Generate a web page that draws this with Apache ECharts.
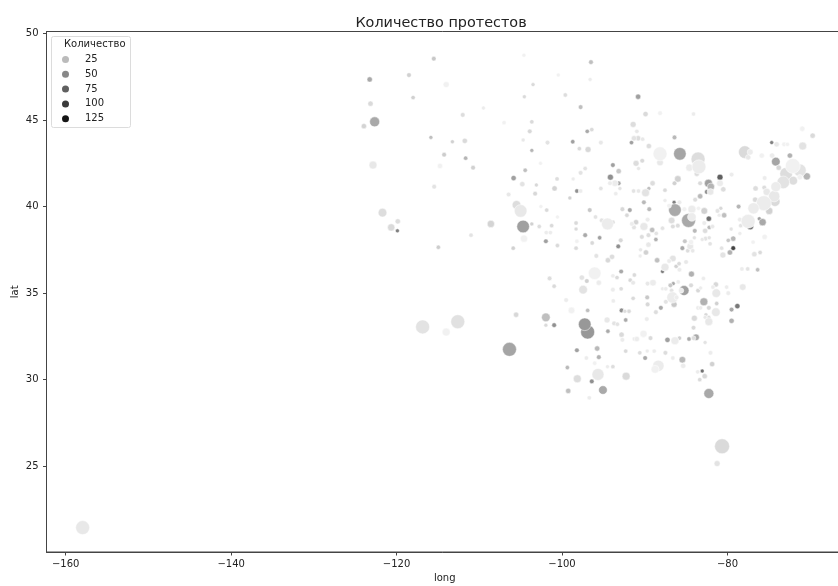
<!DOCTYPE html>
<html><head><meta charset="utf-8">
<style>html,body{margin:0;padding:0;background:#fff}#c{width:838px;height:586px}</style>
<script src="https://cdn.jsdelivr.net/npm/echarts@6/dist/echarts.min.js"></script>
</head><body><div id="c"></div>
<script>
const chartTitle = 'Количество протестов';
const legendTitle = 'Количество';
const legendCounts = ['25','50','75','100','125'];
const legendShades = ['#bbbbbb','#888888','#606060','#3a3a3a','#151515'];
const xTicks = [-160,-140,-120,-100,-80];
const yTicks = [25,30,35,40,45,50];
// each row: long, lat, size, count
const west = [[-115.5,48.55,22,19],[-118.5,47.6,22,15],[-123.25,47.35,28,34],[-114,47.05,36,1],[-104.6,48.75,16,1],[-103.5,47.05,16,11],[-104.55,46.35,16,11],[-118,46.3,19,15],[-123.15,45.95,28,11],[-109.5,45.7,16,3],[-112,45.3,22,10],[-122.65,44.9,100,34],[-123.95,44.65,28,14],[-107,44.85,19,1],[-103.65,44.9,19,11],[-103.9,44.35,22,12],[-115.85,44,16,23],[-113.25,43.75,16,15],[-111.75,43.8,28,11],[-104.7,43.85,16,5],[-103.65,43.25,16,28],[-114.25,43,22,17],[-111.65,42.8,19,28],[-122.85,42.4,64,5],[-114.75,42.35,28,1],[-110.75,42.25,22,15],[-104.45,42.1,19,23],[-105.85,41.65,28,38],[-104.8,41.3,28,7],[-103.1,41.25,16,12],[-115.45,41.15,22,7],[-106.45,40.7,22,5],[-103.25,40.75,22,12],[-105.5,40.1,75,10],[-121.7,39.65,75,10],[-105,39.75,160,5],[-119.85,39.15,28,10],[-120.65,38.8,53,11],[-119.9,38.6,16,55],[-108.6,39,53,14],[-104.7,38.85,160,38],[-103.65,39,16,15],[-102.75,38.85,19,10],[-111,38.35,19,7],[-104.6,38.15,53,1],[-114.95,37.65,19,17],[-105.9,37.6,19,15],[-105.55,33.75,28,12],[-112.6,33.35,196,8],[-116.85,33.05,196,7],[-114,32.75,64,1],[-106.35,31.75,196,36],[-157.95,21.45,196,5]];
const central = [[-96.5,48.35,22,23],[-100.45,47.6,16,1],[-96.6,47.35,16,3],[-99.6,46.45,19,10],[-90.8,46.35,28,38],[-97.75,45.75,22,23],[-89.9,45.35,28,11],[-88.15,45.4,22,1],[-84.1,45.35,19,3],[-96.95,44.35,19,34],[-96.4,44.45,19,11],[-91.4,44.75,36,10],[-90.95,44.35,19,5],[-91.3,43.95,28,7],[-90.8,43.95,28,10],[-90.25,43.9,19,5],[-101.75,43.7,22,7],[-98.7,43.75,19,38],[-95.3,43.7,22,5],[-91.6,43.7,19,38],[-97.9,43.35,19,11],[-96.85,43.3,36,12],[-102.6,42.5,16,1],[-91.05,42.5,36,10],[-90.3,42.65,22,11],[-93.85,42.4,22,38],[-93.15,42.05,28,19],[-90.75,42.2,16,5],[-97.2,42.2,19,7],[-97.75,41.95,22,7],[-100.6,41.6,19,10],[-98.65,41.6,16,3],[-94.15,41.7,36,46],[-93.15,41.35,22,34],[-93.6,41.35,44,3],[-94.2,41.35,22,3],[-100.9,41.05,28,14],[-95.3,41.05,19,7],[-93,41.05,16,7],[-98.2,40.9,19,46],[-97.75,40.9,19,3],[-91.35,40.9,19,7],[-90.75,40.9,19,5],[-89.9,40.8,64,7],[-89.5,41.05,16,23],[-93.5,40.75,19,3],[-99.05,40.5,16,15],[-90.1,40.25,22,26],[-102.55,40,16,1],[-101.85,39.8,19,11],[-96.65,39.8,22,19],[-92.7,39.85,22,12],[-91.8,39.8,22,34],[-89.45,39.85,22,26],[-92.15,39.5,19,12],[-100.55,39.4,16,1],[-95.95,39.4,19,7],[-89.65,39.25,22,3],[-91.05,39.1,28,14],[-91.55,39,22,3],[-91.3,38.8,22,7],[-94.5,39,144,3],[-95.2,39.2,22,7],[-93.85,39.1,19,11],[-98.3,39.05,19,11],[-101.25,38.9,19,11],[-98.3,38.7,16,11],[-90.1,38.85,64,5],[-101.9,38.5,19,3],[-101.4,38.5,19,3],[-97.2,38.35,22,34],[-95.45,38.2,19,38],[-90.35,38.25,22,10],[-89.55,38.35,22,10],[-101.95,38,22,38],[-92.9,38.05,22,12],[-96.35,37.9,19,12],[-93.2,37.7,22,46],[-98.2,38,19,1],[-100.55,37.75,19,11],[-98.3,37.6,19,11],[-90.5,37.5,16,5]];
const east = [[-70.95,44.5,28,1],[-69.7,44.1,28,11],[-86.4,44,22,26],[-74.65,43.7,16,55],[-74.05,43.6,28,5],[-73.15,43.6,22,1],[-72.75,43.6,19,1],[-70.9,43.5,64,7],[-89.5,43.5,28,10],[-77.9,43.15,160,11],[-77.25,43.15,36,3],[-77.5,42.85,28,5],[-88.15,43.05,196,1],[-85.75,43.05,160,36],[-88.15,42.55,44,5],[-72.45,42.95,28,30],[-75.85,42.95,28,1],[-74.6,42.95,28,3],[-83.55,42.75,196,10],[-74.15,42.6,75,36],[-84.6,42.25,53,3],[-83.45,42.3,196,3],[-83.7,41.9,28,10],[-73.8,42.25,28,12],[-72.1,42.35,225,1],[-71.25,42.1,160,7],[-70.4,41.75,53,28],[-72.9,41.9,160,10],[-72.05,41.5,75,10],[-73.25,41.4,160,7],[-71.25,41.7,28,1],[-74.15,41.15,100,3],[-75.5,41.65,22,3],[-80.9,41.7,36,75],[-79.5,41.85,22,3],[-86,41.6,44,15],[-89.05,41.35,28,10],[-86.4,41.35,22,15],[-83.3,41.35,22,11],[-82.3,41.35,64,38],[-82,41.15,53,28],[-80.9,41.35,44,3],[-80.5,41,28,10],[-76.6,41.05,28,10],[-75.55,41.1,22,10],[-75.25,40.85,53,5],[-87.55,40.95,19,11],[-82.05,40.85,44,5],[-82.5,40.85,22,46],[-83.3,40.6,28,26],[-83.9,40.4,22,10],[-76.65,40.4,28,11],[-74.35,40.6,128,5],[-75.6,40.2,225,3],[-74.25,40.3,100,11],[-74.95,39.75,53,15],[-76.85,39.9,128,3],[-78.65,40,22,28],[-87.55,40.35,16,3],[-87.05,40.05,22,1],[-85.8,40.25,22,3],[-86.35,39.8,160,34],[-86.45,40.25,16,55],[-85.2,39.85,22,1],[-84.3,39.85,64,3],[-82.8,39.75,44,15],[-83.5,39.9,19,1],[-81.2,39.75,22,7],[-80.8,39.9,16,12],[-80.4,39.5,28,23],[-81,39.5,16,3],[-84.7,39.2,196,34],[-84.3,39.4,75,3],[-82.25,39.3,28,65],[-78.5,39.25,22,3],[-77.5,39.15,196,3],[-75.75,39.1,53,34],[-76.15,39.3,16,38],[-77.25,38.85,44,70],[-78.4,38.9,19,7],[-79.55,38.7,16,7],[-86.75,39.2,44,10],[-86.6,38.85,22,10],[-86,38.9,22,10],[-89.1,38.65,28,23],[-87.85,38.75,19,7],[-83.95,38.6,22,26],[-82.2,38.8,19,26],[-82.7,38.6,28,10],[-81.8,38.85,19,5],[-82.8,39.05,22,3],[-78.5,38.45,16,3],[-75.5,38.25,28,1],[-88.6,38.45,19,7],[-88.65,38.1,19,30],[-84,38.2,16,7],[-82.65,38.15,22,7],[-82.2,38.2,16,7],[-83.05,38.1,16,5],[-79.3,38.15,28,26],[-79.9,38.05,19,19],[-85.15,38,22,19],[-82.1,37.85,19,7],[-84.4,37.95,28,1],[-76.9,37.95,19,1],[-89.55,37.8,28,5],[-85.45,37.6,22,34],[-84.5,37.7,44,5],[-79.3,37.6,22,95],[-80.7,37.6,19,7]];
const south = [[-95.85,37.15,22,7],[-93.95,37.1,28,10],[-94.45,36.9,28,12],[-89.85,37.35,28,15],[-90.55,37.15,16,3],[-96.05,36.15,160,1],[-97.6,35.9,28,7],[-97,35.7,22,15],[-101.5,35.85,22,10],[-100.95,35.4,19,11],[-95.55,35.6,28,3],[-92.85,36.25,22,34],[-93.85,36,19,3],[-93.35,35.9,19,11],[-91.25,36.05,19,11],[-91.75,35.75,19,12],[-91.4,35.6,22,5],[-89.65,35.55,22,5],[-97.45,35.2,75,7],[-93.85,35.2,22,3],[-92.85,35.25,19,10],[-99.5,34.6,22,3],[-93.8,34.55,19,3],[-91.4,34.7,19,11],[-89.7,34.75,22,19],[-89.65,34.35,22,12],[-98.85,34,44,1],[-96.9,34,19,23],[-92.8,34,22,46],[-92.4,33.95,16,10],[-91.9,33.95,19,11],[-101.95,33.6,75,23],[-101.95,33.15,16,11],[-100.95,33.15,22,46],[-96.9,32.75,196,42],[-97.25,33.2,160,42],[-94.55,33.45,36,5],[-92.3,33.45,19,34],[-89.75,33.5,22,3],[-93.7,33.25,22,7],[-93.3,33.2,19,7],[-94.45,32.8,19,34],[-92.8,32.6,28,11],[-90.15,32.65,53,1],[-92.7,32.3,22,3],[-91.25,32.35,19,3],[-90.95,32.35,28,3],[-98.2,31.7,22,38],[-95.75,31.8,28,26],[-95.55,31.3,22,30],[-92.3,31.65,19,11],[-90.6,31.55,19,10],[-89.7,31.65,16,3],[-89.95,31.25,22,34],[-97.05,31.25,19,3],[-99.35,30.7,19,26],[-96.05,30.95,19,1],[-94.5,30.75,16,3],[-93.85,30.75,19,10],[-95.65,30.3,144,5],[-98.15,30.05,64,10],[-92.25,30.2,64,11],[-96.4,29.9,22,46],[-99.25,29.35,28,23],[-95.05,29.4,75,34],[-96.7,28.95,19,3]];
const southeast = [[-79.7,37.35,28,30],[-80.55,37.2,36,7],[-84.8,37.45,19,10],[-84.2,37.45,19,5],[-88.5,36.9,28,23],[-86.6,37,44,7],[-87.05,36.85,22,3],[-87.55,36.5,64,5],[-85.85,36.7,19,11],[-86.2,36.55,19,15],[-85.8,36.35,22,3],[-85,36.8,22,5],[-87.85,36.25,16,55],[-76.75,37.25,28,7],[-76.05,37.35,19,11],[-84.35,36.1,36,30],[-78.25,36.4,19,3],[-77.55,36.4,19,7],[-76.35,36.35,19,23],[-82.9,35.85,19,3],[-89,35.6,44,3],[-85.95,35.65,19,3],[-86.9,35.45,22,19],[-86.55,35.55,16,34],[-85.25,35.15,100,38],[-85.6,35.15,28,3],[-84.4,35.45,22,11],[-87.85,35.25,16,3],[-87.45,35.25,19,3],[-86.75,35.15,19,7],[-81.4,35.5,28,12],[-81.75,35.35,19,3],[-81.35,35,75,5],[-80.1,35.35,19,3],[-79.9,35,22,3],[-78.15,35.35,44,5],[-83.55,35.15,22,12],[-83.25,35.3,16,3],[-86.65,34.75,128,3],[-86.15,34.75,22,3],[-87.45,34.5,22,7],[-86.45,34.35,36,19],[-82.85,34.5,64,30],[-81.3,34.4,19,15],[-88.05,34.15,22,34],[-88.65,33.9,22,10],[-83.55,34.15,22,3],[-83.25,34.15,19,3],[-82.25,34.15,22,12],[-78.8,34.25,28,60],[-79.5,34.05,22,34],[-82.6,33.75,16,12],[-81.4,33.9,75,5],[-82.25,33.6,16,10],[-82.7,33.6,16,5],[-82.25,33.35,64,5],[-84,33.55,36,11],[-79.5,33.4,28,30],[-84.1,33,22,11],[-89.3,32.4,22,11],[-87.25,32.3,28,38],[-86.35,32.25,64,3],[-85.8,32.4,19,15],[-84.65,32.35,19,34],[-83.8,32.45,44,34],[-84.1,32.4,22,10],[-82.7,32.15,16,7],[-88.85,31.65,19,3],[-87.5,31.55,22,10],[-85.45,31.15,44,26],[-86.6,31.25,19,3],[-82.05,31.55,22,3],[-81.85,30.9,28,15],[-85.35,30.8,28,3],[-88.35,30.8,128,3],[-88.75,30.6,64,1],[-83.6,30.45,19,3],[-83.05,30.5,16,65],[-82.75,30.2,28,12],[-83.35,30,19,11],[-82.25,29.2,100,34],[-80.65,26.15,225,11],[-81.25,25.15,36,7]];

const rows = [...west, ...central, ...east, ...south, ...southeast]
  .map((r, i) => [r, i]).sort((a, b) => b[0][3] - a[0][3] || a[1] - b[1]).map(p => p[0]);
const font = '"DejaVu Sans", sans-serif';
const axisCommon = {
  type: 'value', nameLocation: 'middle', splitLine: {show: false},
  nameTextStyle: {fontFamily: font, fontSize: 10, color: '#222'},
  axisLine: {show: true, onZero: false, lineStyle: {color: '#444', width: 1}},
};
const chart = echarts.init(document.getElementById('c'), null, {renderer: 'canvas'});
chart.setOption({
  animation: false, backgroundColor: '#fff',
  title: {text: chartTitle, left: 436, top: 11, textAlign: 'center',
    textStyle: {fontFamily: font, fontSize: 14.4, fontWeight: 'normal', color: '#222'}},
  grid: {left: 46.5, right: -5, top: 31.5, bottom: 34, outerBoundsMode: 'none', show: true, borderColor: '#444', borderWidth: 1, backgroundColor: '#fff'},
  xAxis: Object.assign({}, axisCommon, {name: 'long', nameGap: 21, nameMoveOverlap: false, min: -162.32, max: -66.03,
    axisTick: {show: true, length: 3.5, customValues: xTicks, lineStyle: {color: '#444'}},
    axisLabel: {customValues: xTicks, fontFamily: font, fontSize: 10, color: '#222', margin: 7,
      formatter: v => String(v).replace('-', '\u2212')}}),
  yAxis: Object.assign({}, axisCommon, {name: 'lat', nameGap: 26, nameMoveOverlap: false, min: 20.04, max: 50.12,
    axisTick: {show: true, length: 3.5, customValues: yTicks, lineStyle: {color: '#444'}},
    axisLabel: {customValues: yTicks, fontFamily: font, fontSize: 10, color: '#222', margin: 8}}),
  visualMap: {show: false, type: 'continuous', seriesIndex: 0, dimension: 3, min: 0, max: 125,
    inRange: {color: ['#f3f3f3', ...legendShades]}},
  legend: {orient: 'vertical', left: 62, top: 54.5, icon: 'circle', itemWidth: 8, itemHeight: 7, itemGap: 4.8,
    padding: 0, selectedMode: false, data: legendCounts, z: 6,
    textStyle: {fontFamily: font, fontSize: 10, color: '#222', padding: [0, 0, 0, 10.5]}},
  graphic: [
    {type: 'rect', z: 3, shape: {x: 51.5, y: 36.5, width: 79, height: 91, r: 2}, style: {fill: 'rgba(255,255,255,0.8)', stroke: '#dcdcdc', lineWidth: 1}},
    {type: 'text', z: 6, left: 64, top: 39, style: {text: legendTitle, font: '10px "DejaVu Sans"', fill: '#222'}}
  ],
  series: [
    {type: 'scatter', name: 'points', data: rows, encode: {x: 0, y: 1},
      symbolSize: v => Math.sqrt(v[2]),
      itemStyle: {borderColor: '#fff', borderWidth: 0.5, opacity: 1}, silent: true},
    ...legendCounts.map((n, i) => ({type: 'scatter', name: n, data: [], itemStyle: {color: legendShades[i], opacity: 1}}))
  ]
});
</script></body></html>
